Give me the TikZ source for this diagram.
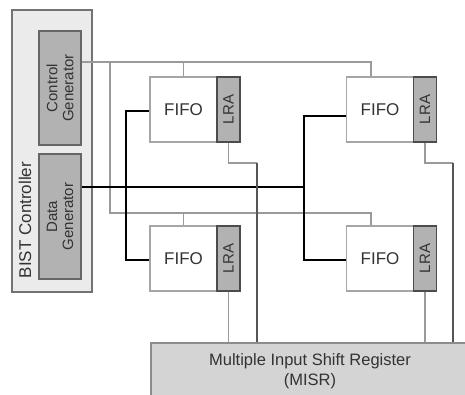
\documentclass[tikz,border=0pt]{standalone}
\usepackage{fontspec}
\setmainfont{Liberation Sans}
\usetikzlibrary{arrows.meta}

\definecolor{txtgray}{HTML}{333333}
\definecolor{ctlgray}{HTML}{9A9A9A}
\definecolor{busgray}{HTML}{555555}

\begin{document}
\begin{tikzpicture}[
    x=1pt, y=-1pt,
    >=Stealth,
    line width=1.2pt,
    text=txtgray,
    outer/.style={draw=black!55, fill=black!8, inner sep=0pt},
    gen/.style={draw=black!60, fill=black!30, inner sep=0pt, rotate=90,
        align=center, font=\fontsize{15}{16}\selectfont},
    fifo/.style={draw=black!35, fill=white, inner sep=0pt,
        minimum width=67pt, minimum height=65pt,
        font=\fontsize{17}{19}\selectfont},
    lra/.style={draw=black!70, fill=black!30, inner sep=0pt, rotate=90,
        minimum width=65pt, minimum height=23pt,
        font=\fontsize{15}{17}\selectfont},
    ctl/.style={draw=ctlgray, line width=1.2pt},
    sig/.style={draw=busgray, line width=1.3pt},
    data/.style={draw=black, line width=2.6pt}
]

    \clip (0,0) rectangle (465,394);
    \useasboundingbox (0,0) rectangle (465,394);

    % BIST controller with its two generators
    \node[outer, minimum width=80pt, minimum height=282pt] (ctrl) at (52,151) {};
    \node[rotate=90, font=\fontsize{17}{19}\selectfont, anchor=west]
        (ctrllabel) at (25,282) {BIST Controller};
    \node[gen, minimum width=114pt, minimum height=42pt] (cgen) at (60,88)
        {Control\\Generator};
    \node[gen, minimum width=125pt, minimum height=42pt] (dgen) at (60,216.5)
        {Data\\Generator};

    % FIFOs with their LRA (rotated: south is right side, west is bottom)
    \node[fifo] (fifo1) at (183.5,109.5) {FIFO};
    \node[lra]  (lra1)  at (228.5,109.5) {LRA};
    \node[fifo] (fifo2) at (380,109.5) {FIFO};
    \node[lra]  (lra2)  at (425,109.5) {LRA};
    \node[fifo] (fifo3) at (183.5,258.5) {FIFO};
    \node[lra]  (lra3)  at (228.5,258.5) {LRA};
    \node[fifo] (fifo4) at (380,258.5) {FIFO};
    \node[lra]  (lra4)  at (425,258.5) {LRA};

    % MISR
    \node[draw=black!45, fill=black!17, inner sep=0pt, align=center,
        minimum width=318pt, minimum height=57pt,
        font=\fontsize{16.5}{20}\selectfont] (misr) at (310,371.5)
        {Multiple Input Shift Register\\(MISR)};

    % Control lines
    \coordinate (ctop) at (110,62);
    \coordinate (cbot) at (110,213);
    \draw[ctl] (cgen.south |- ctop) -| ([xshift=-9pt]fifo2.north);
    \draw[ctl] (fifo1.north) -- (fifo1.north |- ctop);
    \draw[ctl] (ctop) -- (cbot) -| ([xshift=-9pt]fifo4.north);
    \draw[ctl] (fifo3.north) -- (fifo3.north |- cbot);

    % Data lines
    \coordinate (dl) at (126,187);
    \coordinate (dr) at (304,187);
    \draw[data] (dgen.south |- dl) -- (dr);
    \draw[data] ([yshift=-1.5pt]fifo1.west) -| (dl) |- ([yshift=-1.5pt]fifo3.west);
    \draw[data] ([yshift=-6.5pt]fifo2.west) -| (dr) |- ([yshift=-1.5pt]fifo4.west);

    % LRA outputs to MISR
    \coordinate (m1) at (257,163);
    \coordinate (m2) at (453,163);
    \draw[ctl] ([yshift=-0.6pt]lra1.west) |- (m1);
    \draw[sig] (m1) -- (m1 |- misr.north);
    \draw[ctl] ([yshift=-0.6pt]lra3.west) -- (lra3.west |- misr.north);
    \draw[ctl] ([yshift=-0.6pt]lra2.west) |- (m2);
    \draw[sig] (m2) -- (m2 |- misr.north);
    \draw[ctl] ([yshift=-0.6pt]lra4.west) -- (lra4.west |- misr.north);

\end{tikzpicture}
\end{document}
